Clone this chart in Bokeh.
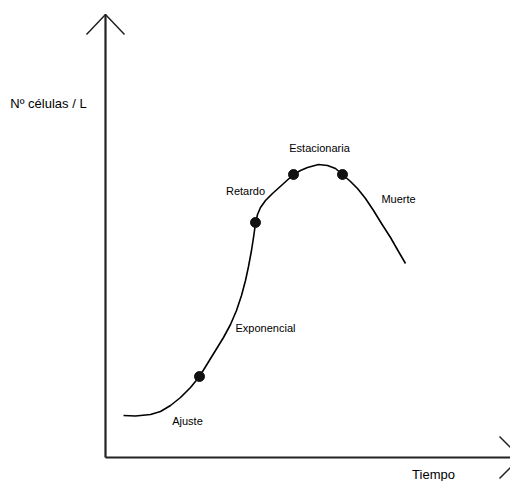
from bokeh.plotting import figure
from bokeh.models import Range1d, ColumnDataSource
from bokeh.core.properties import value
from bokeh.embed import file_html
from bokeh.resources import INLINE

# Growth curve (time, cells) in picture units
time = [123, 135, 150, 160, 170, 180, 190, 199, 207, 215, 223, 230, 236, 241,
        245, 248, 251, 253, 255, 257, 260, 265, 272, 282, 293, 300, 307, 318,
        327, 335, 342, 350, 357, 365, 373, 381, 390, 398, 405]
cells = [66, 65.5, 67, 70, 76, 84, 94, 105, 118, 131, 144, 157, 171, 186,
         201, 215, 231, 244, 258, 267, 274, 281, 288, 297, 307, 311, 314, 317,
         316, 313, 307, 300, 293, 283, 271, 258, 244, 230, 218]

# Phase boundary points
dot_time = [199, 255, 293, 342]
dot_cells = [105, 259, 307, 307]

# Phase labels
phase_names = ["Ajuste", "Exponencial", "Retardo", "Estacionaria", "Muerte"]
phase_x = [187, 265, 245, 319, 398]
phase_y = [61, 154, 291, 334, 283]

# Axes
y_axis_x = [105, 105]
y_axis_y = [24, 467]
x_axis_x = [105, 520]
x_axis_y = [24, 24]
y_arrow_x = [86, 105, 124]
y_arrow_y = [447, 467, 447]
x_arrow_x = [499, 520, 499]
x_arrow_y = [45, 24, 3]

y_label = "Nº células / L"
x_label = "Tiempo"

p = figure(width=510, height=481, output_backend="svg", toolbar_location=None,
           x_range=Range1d(0, 510), y_range=Range1d(0, 481),
           min_border=0, outline_line_color=None)
p.axis.visible = False
p.grid.visible = False
p.background_fill_color = "white"

p.line(y_axis_x, y_axis_y, line_color="#222222", line_width=2.2)
p.line(x_axis_x, x_axis_y, line_color="#222222", line_width=2.2)
p.line(y_arrow_x, y_arrow_y, line_color="#222222", line_width=1.5)
p.line(x_arrow_x, x_arrow_y, line_color="#222222", line_width=1.5)

p.line(time, cells, line_color="black", line_width=1.6, line_join="round")
p.scatter(dot_time, dot_cells, size=10, fill_color="#111111", line_color="#111111")

src = ColumnDataSource(dict(x=phase_x, y=phase_y, t=phase_names))
p.text(x="x", y="y", text="t", source=src, text_font=value("Liberation Sans"),
       text_font_size="11px", text_align="center", text_baseline="middle",
       text_color="black")

p.text(x=[48], y=[378], text=[y_label], text_font=value("Liberation Sans"),
       text_font_size="13px", text_align="center", text_baseline="middle",
       text_color="black")
p.text(x=[433], y=[0], text=[x_label], text_font=value("Liberation Sans"),
       text_font_size="13px", text_align="center", text_baseline="bottom",
       text_color="black")

open("out.html", "w").write(file_html(p, INLINE))
